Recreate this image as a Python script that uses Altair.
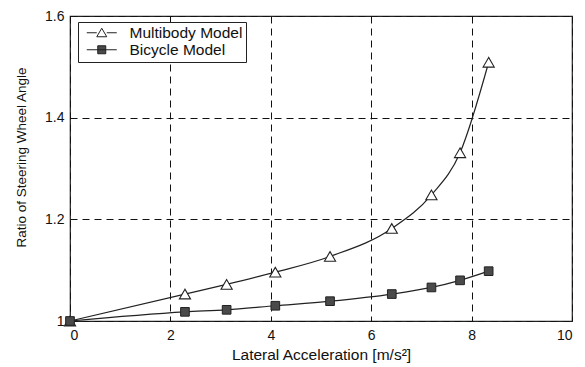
import altair as alt
import pandas as pd

# Lateral acceleration [m/s^2] at which each steady-state run was evaluated
accel = [0.0, 2.29, 3.12, 4.09, 5.18, 6.41, 7.20, 7.77, 8.34]

# Steering wheel angle ratio for each model
multibody = [1.000, 1.053, 1.072, 1.096, 1.127, 1.182, 1.248, 1.331, 1.509]
bicycle = [1.000, 1.018, 1.022, 1.030, 1.039, 1.053, 1.066, 1.080, 1.098]

series_names = ["Multibody Model", "Bicycle Model"]

x_ticks = [0, 2, 4, 6, 8, 10]
y_ticks = [1.0, 1.2, 1.4, 1.6]

rows = []
for name, vals in zip(series_names, [multibody, bicycle]):
    for a, v in zip(accel, vals):
        rows.append({"accel": a, "ratio": v, "series": name})
df = pd.DataFrame(rows)

FONT = "Liberation Sans"

x_enc = alt.X(
    "accel:Q",
    scale=alt.Scale(domain=[0, 10], nice=False),
    axis=alt.Axis(
        title="Lateral Acceleration [m/s²]",
        titleFontSize=15.5,
        values=x_ticks,
        format="d",
        grid=True,
        gridDash=[7, 5],
        gridColor="#111",
        gridWidth=1,
        gridOpacity=1,
        ticks=False,
        domain=False,
        labelPadding=7,
        titlePadding=5,
    ),
)
y_enc = alt.Y(
    "ratio:Q",
    scale=alt.Scale(domain=[1.0, 1.6], nice=False, zero=False),
    axis=alt.Axis(
        title="Ratio of Steering Wheel Angle",
        titleFontSize=13.5,
        titleY=141,
        values=y_ticks,
        format=".1~f",
        grid=True,
        gridDash=[7, 5],
        gridColor="#111",
        gridWidth=1,
        gridOpacity=1,
        ticks=False,
        domain=False,
        labelPadding=6,
        titlePadding=16,
    ),
)

base = alt.Chart(df)

curves = base.mark_line(
    color="#222", strokeWidth=1.2, interpolate="monotone"
).encode(x=x_enc, y=y_enc, detail="series:N")

triangles = base.transform_filter(
    alt.datum.series == "Multibody Model"
).mark_point(
    shape="triangle-up", filled=True, fill="white", stroke="#222",
    strokeWidth=1.1, size=125, opacity=1
).encode(x="accel:Q", y="ratio:Q")

squares = base.transform_filter(
    alt.datum.series == "Bicycle Model"
).mark_point(
    shape="square", filled=True, fill="#4a4a4a", stroke="#222",
    strokeWidth=1, size=75, opacity=1
).encode(x="accel:Q", y="ratio:Q")

# legend glyphs: a short line with the series marker in its middle
tri_glyph = "M-3,0H-1 M1,0H3 M-1,0.8L0,-0.9L1,0.8Z"
sq_glyph = "M-3,0H3 M-0.8,-0.8H0.8V0.8H-0.8Z"

legend_layer = base.mark_point(
    filled=True, opacity=0, strokeWidth=1
).encode(
    x="accel:Q",
    y="ratio:Q",
    shape=alt.Shape(
        "series:N",
        scale=alt.Scale(domain=series_names, range=[tri_glyph, sq_glyph]),
        legend=alt.Legend(
            title=None,
            orient="none",
            legendX=8,
            legendY=6,
            strokeColor="#222",
            fillColor="white",
            padding=3,
            symbolOpacity=1,
            symbolSize=100,
            symbolStrokeWidth=1,
            symbolOffset=13,
            labelOffset=20,
            labelFont=FONT,
            labelFontSize=15.5,
            labelColor="#111",
            rowPadding=0,
        ),
    ),
    fill=alt.Fill(
        "series:N",
        scale=alt.Scale(domain=series_names, range=["white", "#4a4a4a"]),
    ),
    stroke=alt.Stroke(
        "series:N",
        scale=alt.Scale(domain=series_names, range=["#222", "#222"]),
    ),
)

chart = alt.layer(curves, triangles, squares, legend_layer).properties(
    width=502,
    height=305,
    padding={"left": 70, "top": 16, "right": 13, "bottom": 46},
    autosize=alt.AutoSizeParams(type="none"),
    background="white",
).configure_view(
    stroke="#222", strokeWidth=1.2
).configure_axis(
    labelFont=FONT,
    labelFontSize=14,
    labelColor="#111",
    titleFont=FONT,
    titleFontWeight="normal",
    titleColor="#111",
)

chart.save("out.html", embed_options={"renderer": "svg", "actions": False})
